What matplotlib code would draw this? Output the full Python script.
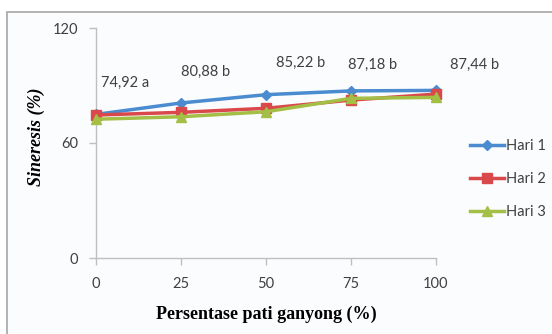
import matplotlib
matplotlib.use("Agg")
import matplotlib.pyplot as plt
from matplotlib.patches import Rectangle

# Data
x_labels = [0, 25, 50, 75, 100]
hari1 = [74.92, 80.88, 85.22, 87.18, 87.44]
hari2 = [74.6, 76.0, 78.1, 82.4, 85.5]
hari3 = [72.4, 73.7, 76.3, 83.3, 83.8]
series_names = ["Hari 1", "Hari 2", "Hari 3"]
annotations = ["74,92 a", "80,88 b", "85,22 b", "87,18 b", "87,44 b"]
y_ticks = [0, 60, 120]

W, H = 552, 334
fig = plt.figure(figsize=(W / 100, H / 100), dpi=100, facecolor="white")

# Chart area frame (behind everything)
bg = "#fbfcfe"
fig.patches.append(Rectangle((7 / W, -0.05), 1.0, 1.05 - 12 / H, transform=fig.transFigure,
                             facecolor=bg, edgecolor="#a6a6a6", linewidth=1.2, zorder=-10))

ax = fig.add_axes([96 / W, 1 - 258 / H, (436 - 96) / W, (258 - 28) / H])
ax.set_facecolor("none")

colors = ["#4a8ccf", "#d9484a", "#a3bf45"]
markers = ["D", "s", "^"]
msizes = [5.5, 7.5, 7.5]
for vals, name, c, m, ms in zip([hari1, hari2, hari3], series_names, colors, markers, msizes):
    ax.plot(x_labels, vals, color=c, marker=m, markersize=ms, linewidth=2.5,
            label=name, clip_on=False, zorder=3)

ax.set_xlim(0, 100)
ax.set_ylim(0, 120)
ax.set_xticks(x_labels)
ax.set_yticks(y_ticks)
for s in ["top", "right"]:
    ax.spines[s].set_visible(False)
for s in ["left", "bottom"]:
    ax.spines[s].set_color("#bfbfbf")
    ax.spines[s].set_linewidth(1.0)
ax.tick_params(axis="both", colors="#bfbfbf", length=5, width=1.0,
               labelcolor="#404040", labelsize=10.5)
for lab in ax.get_xticklabels() + ax.get_yticklabels():
    lab.set_fontfamily("Lato")
ax.tick_params(axis="x", pad=9)
ax.tick_params(axis="y", pad=8)

# Value labels
ann_pos = [(1.5, 91.5), (25, 97), (53, 102), (74, 101), (104, 101)]
for txt, (px, py) in zip(annotations, ann_pos):
    ax.text(px, py, txt, fontsize=10.5, color="#404040", family="Lato",
            ha="left", va="center", clip_on=False)

# Axis titles
fig.text(266 / W, 1 - 314 / H, "Persentase pati ganyong (%)", family="Liberation Serif",
         fontweight="bold", fontsize=13, color="black", ha="center", va="center")
fig.text(36 / W, 1 - 137 / H, "Sineresis (%)", family="Liberation Serif",
         fontweight="bold", fontstyle="italic", fontsize=13, color="black",
         rotation=90, ha="center", va="center")

leg = ax.legend(loc="center left", bbox_to_anchor=(470 / W, 1 - 179 / H),
                bbox_transform=fig.transFigure, frameon=False,
                labelspacing=1.3, handlelength=2.3, handletextpad=0.2,
                borderpad=0.0, borderaxespad=0.0,
                prop={"family": "Lato", "size": 10.5})
for t in leg.get_texts():
    t.set_color("#404040")

fig.savefig("out.png", dpi=100, facecolor="white")
